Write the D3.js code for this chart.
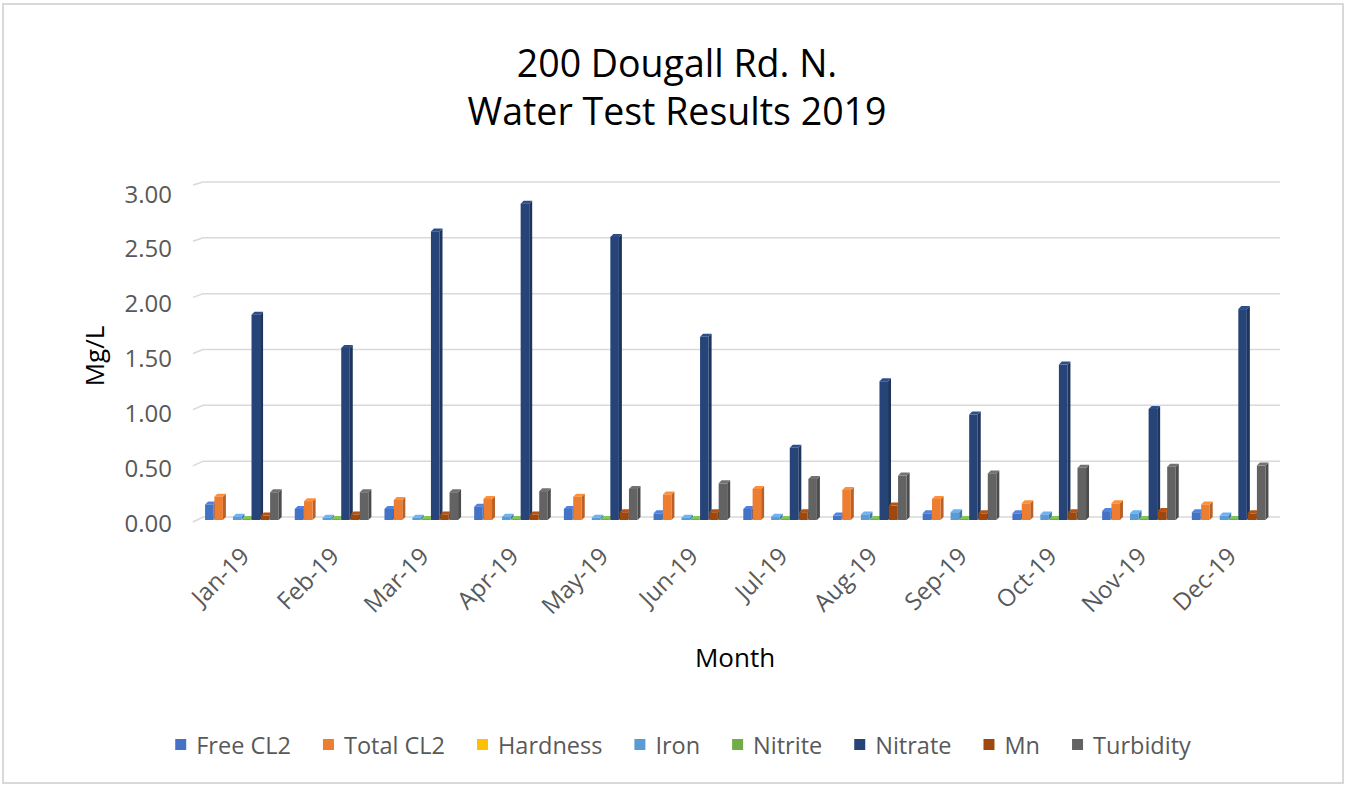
<!DOCTYPE html>
<html>
<head>
<meta charset="utf-8">
<script src="https://cdn.jsdelivr.net/npm/d3@7"></script>
<style>
  body { margin: 0; background: #fff; }
  svg text { font-family: "Open Sans", sans-serif; }
</style>
</head>
<body>
<div id="chart"></div>
<script>

// Data
var months = ['Jan-19', 'Feb-19', 'Mar-19', 'Apr-19', 'May-19', 'Jun-19',
              'Jul-19', 'Aug-19', 'Sep-19', 'Oct-19', 'Nov-19', 'Dec-19'];

var seriesNames  = ['Free CL2', 'Total CL2', 'Hardness', 'Iron', 'Nitrite', 'Nitrate', 'Mn', 'Turbidity'];
var seriesColors = ['#4472C4', '#ED7D31', '#FFC000', '#5B9BD5', '#70AD47', '#264478', '#9E480E', '#636363'];

var freeCL2   = [0.14, 0.10, 0.10, 0.12, 0.10, 0.06, 0.10, 0.04, 0.06, 0.06, 0.08, 0.07];
var totalCL2  = [0.21, 0.17, 0.18, 0.19, 0.21, 0.23, 0.28, 0.27, 0.19, 0.15, 0.15, 0.14];
var hardness  = [0, 0, 0, 0, 0, 0, 0, 0, 0, 0, 0, 0];
var iron      = [0.03, 0.02, 0.02, 0.03, 0.02, 0.02, 0.03, 0.05, 0.07, 0.05, 0.06, 0.04];
var nitrite   = [0.01, 0.01, 0.01, 0.01, 0.01, 0.01, 0.01, 0.01, 0.01, 0.01, 0.01, 0.01];
var nitrate   = [1.85, 1.55, 2.60, 2.85, 2.55, 1.65, 0.65, 1.25, 0.95, 1.40, 1.00, 1.90];
var mn        = [0.04, 0.05, 0.05, 0.05, 0.07, 0.07, 0.07, 0.13, 0.06, 0.07, 0.08, 0.06];
var turbidity = [0.25, 0.25, 0.25, 0.26, 0.28, 0.33, 0.37, 0.40, 0.42, 0.47, 0.48, 0.49];

var seriesValues = [freeCL2, totalCL2, hardness, iron, nitrite, nitrate, mn, turbidity];

var yTicks = [0, 0.5, 1, 1.5, 2, 2.5, 3];

var titleLines = ['200 Dougall Rd. N.', 'Water Test Results 2019'];


var width = 1348,
    height = 789,
    depthX = 3, depthY = 3;   // fake 3d depth of the columns

var svg = d3.select('#chart').append('svg')
  .attr('width', width)
  .attr('height', height);

// Chart border
svg.append('rect')
  .attr('x', 3).attr('y', 4)
  .attr('width', 1340).attr('height', 779)
  .attr('fill', '#fff')
  .attr('stroke', '#d9d9d9')
  .attr('stroke-width', 2);

// Scales
var x = d3.scaleBand()
  .domain(months)
  .range([198.5, 1275])
  .paddingInner(0.146)
  .paddingOuter(0.073);

var xs = d3.scaleBand()
  .domain(seriesNames)
  .range([0, x.bandwidth() - depthX])
  .paddingInner(0.08);

var yBar   = d3.scaleLinear().domain([0, 3]).range([520, 187]);  // columns
var yWall  = d3.scaleLinear().domain([0, 3]).range([517, 182]);  // back wall
var yFront = d3.scaleLinear().domain([0, 3]).range([522, 185]);  // left front edge
var yLabel = d3.scaleLinear().domain([0, 3]).range([522, 193]);

var wallLeft = 203, frontLeft = 193, wallRight = 1280;

// Gridlines on the back wall with the little side-wall step at the left
svg.append('g').selectAll('path')
  .data(yTicks)
  .join('path')
  .attr('d', function(d){
    return 'M' + frontLeft + ',' + yFront(d) + 'L' + wallLeft + ',' + yWall(d) + 'L' + wallRight + ',' + yWall(d);
  })
  .attr('fill', 'none')
  .attr('stroke', '#d9d9d9')
  .attr('stroke-width', 1.5);

// Y tick labels
svg.append('g').selectAll('text')
  .data(yTicks)
  .join('text')
  .attr('x', 172)
  .attr('y', function(d){ return yLabel(d); })
  .attr('dominant-baseline', 'central')
  .attr('text-anchor', 'end')
  .attr('font-size', 24)
  .attr('fill', '#595959')
  .text(function(d){ return d3.format('.2f')(d); });

// Columns
var rows = [];
months.forEach(function(m, i){
  seriesNames.forEach(function(s, j){
    rows.push({ month: m, series: s, value: seriesValues[j][i], color: seriesColors[j] });
  });
});

var bars = svg.append('g').selectAll('g')
  .data(rows.filter(function(d){ return d.value > 0; }))
  .join('g');

bars.each(function(d){
  var g = d3.select(this),
      bx = x(d.month) + xs(d.series),
      bw = xs.bandwidth(),
      y0 = yBar(0),
      y1 = yBar(d.value),
      c = d3.color(d.color);

  // side
  g.append('path')
    .attr('d', 'M' + (bx + bw) + ',' + y1 + 'L' + (bx + bw + depthX) + ',' + (y1 - depthY) +
               'L' + (bx + bw + depthX) + ',' + (y0 - depthY) + 'L' + (bx + bw) + ',' + y0 + 'Z')
    .attr('fill', c.darker(0.7));
  // top
  g.append('path')
    .attr('d', 'M' + bx + ',' + y1 + 'L' + (bx + depthX) + ',' + (y1 - depthY) +
               'L' + (bx + bw + depthX) + ',' + (y1 - depthY) + 'L' + (bx + bw) + ',' + y1 + 'Z')
    .attr('fill', c.brighter(0.4));
  // front
  g.append('rect')
    .attr('x', bx).attr('y', y1)
    .attr('width', bw).attr('height', y0 - y1)
    .attr('fill', c);
});

// X tick labels, rotated
svg.append('g').selectAll('text')
  .data(months)
  .join('text')
  .attr('transform', function(d){
    return 'translate(' + (x(d) + x.bandwidth() / 2 + 1) + ',551) rotate(-45)';
  })
  .attr('text-anchor', 'end')
  .attr('dominant-baseline', 'central')
  .attr('font-size', 24)
  .attr('fill', '#595959')
  .text(function(d){ return d; });

// Axis titles
svg.append('text')
  .attr('transform', 'translate(94,356) rotate(-90)')
  .attr('text-anchor', 'middle')
  .attr('dominant-baseline', 'central')
  .attr('font-size', 26)
  .attr('fill', '#000')
  .text('Mg/L');

svg.append('text')
  .attr('x', 735).attr('y', 657)
  .attr('text-anchor', 'middle')
  .attr('dominant-baseline', 'central')
  .attr('font-size', 26)
  .attr('fill', '#000')
  .text('Month');

// Title
svg.append('g').selectAll('text')
  .data(titleLines)
  .join('text')
  .attr('x', 677)
  .attr('y', function(d, i){ return 62 + i * 48; })
  .attr('text-anchor', 'middle')
  .attr('dominant-baseline', 'central')
  .attr('font-size', 37.5)
  .attr('fill', '#000')
  .text(function(d){ return d; });

// Legend
var legend = svg.append('g');
var lx = 0;
seriesNames.forEach(function(name, i){
  legend.append('rect')
    .attr('x', lx).attr('y', 739)
    .attr('width', 11).attr('height', 11)
    .attr('fill', seriesColors[i]);
  var t = legend.append('text')
    .attr('x', lx + 21).attr('y', 744.5)
    .attr('dominant-baseline', 'central')
    .attr('font-size', 23.5)
    .attr('fill', '#595959')
    .text(name);
  lx += 21 + t.node().getComputedTextLength() + 32;
});
var legendWidth = lx - 32;
legend.attr('transform', 'translate(' + (683 - legendWidth / 2) + ',0)');

</script>
</body>
</html>
